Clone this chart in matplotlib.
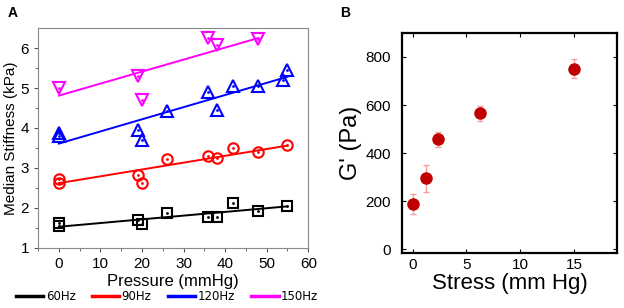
import matplotlib.pyplot as plt
import numpy as np
from matplotlib.lines import Line2D

plt.rcParams['font.family'] = ['Liberation Sans', 'DejaVu Sans']

# panel A: median stiffness vs pressure at four frequencies
x_60 = [0, 0, 19, 20, 26, 36, 38, 42, 48, 55]
y_60 = [1.62, 1.55, 1.70, 1.59, 1.88, 1.78, 1.78, 2.12, 1.93, 2.05]
x_90 = [0, 0, 19, 20, 26, 36, 38, 42, 48, 55]
y_90 = [2.73, 2.63, 2.82, 2.62, 3.22, 3.30, 3.26, 3.49, 3.41, 3.57]
x_120 = [0, 0, 19, 20, 26, 36, 38, 42, 48, 54, 55]
y_120 = [3.88, 3.80, 3.94, 3.69, 4.43, 4.90, 4.44, 5.05, 5.05, 5.20, 5.44]
x_150 = [0, 19, 20, 36, 38, 48]
y_150 = [5.00, 5.30, 4.69, 6.26, 6.07, 6.22]

# linear fits as drawn (end points)
fit_x_60, fit_y_60 = [0, 55], [1.53, 2.04]
fit_x_90, fit_y_90 = [0, 55], [2.62, 3.56]
fit_x_120, fit_y_120 = [0, 55], [3.61, 5.28]
fit_x_150, fit_y_150 = [0, 48], [4.81, 6.25]

series_a = [
    ('60Hz', x_60, y_60, fit_x_60, fit_y_60, 'black', 's', 6.5),
    ('90Hz', x_90, y_90, fit_x_90, fit_y_90, 'red', 'o', 7.5),
    ('120Hz', x_120, y_120, fit_x_120, fit_y_120, 'blue', '^', 8),
    ('150Hz', x_150, y_150, fit_x_150, fit_y_150, 'magenta', 'v', 8),
]

# panel B: G' vs stress
stress = [0, 1.2, 2.4, 6.3, 15]
g_prime = [190, 295, 457, 565, 752]
g_err = [42, 55, 30, 30, 40]

fig = plt.figure(figsize=(6.24, 3.08), dpi=100)

#### panel A
ax = fig.add_axes([0.061, 0.195, 0.433, 0.714])
for name, xs, ys, fx, fy, col, mk, ms in series_a:
    ax.plot(fx, fy, color=col, lw=1.4)
    ax.plot(xs, ys, ls='none', marker=mk, ms=ms, mfc='none', mec=col, mew=1.5)
    ax.plot(xs, ys, ls='none', marker='.', ms=2, color=col)

ax.set_xlim(-5, 60)
ax.set_ylim(1, 6.5)
ax.set_xticks(np.arange(0, 61, 10))
ax.set_xticks(np.arange(-5, 60, 5), minor=True)
ax.set_yticks([1, 2, 3, 4, 5, 6])
ax.set_yticks(np.arange(1.5, 6.5, 1), minor=True)
ax.tick_params(labelsize=11, length=3, width=0.8, color='#555555')
ax.tick_params(which='minor', length=2, color='#555555')
for sp in ax.spines.values():
    sp.set_color('#888888')
    sp.set_linewidth(0.8)
ax.set_xlabel('Pressure (mmHg)', fontsize=12, labelpad=2)
ax.set_ylabel('Median Stiffness (kPa)', fontsize=11, labelpad=2)

handles = [Line2D([], [], color=s[5], lw=2.5) for s in series_a]
fig.legend(handles, [s[0] for s in series_a], loc='center', ncol=4,
           bbox_to_anchor=(0.268, 0.036), frameon=False,
           handlelength=2.3, handletextpad=0.2, columnspacing=1.4,
           borderpad=0, prop={'family': 'DejaVu Sans', 'size': 8.5})

fig.text(0.013, 0.958, 'A', fontsize=10, fontweight='bold', va='center')

#### panel B
bx = fig.add_axes([0.644, 0.179, 0.345, 0.714])
bx.errorbar(stress, g_prime, yerr=g_err, fmt='o', ms=8, color='#c00000',
            ecolor='#f4a0a0', elinewidth=1, capsize=2)
bx.set_xlim(-1, 19)
bx.set_ylim(-15, 900)
bx.set_xticks([0, 5, 10, 15])
bx.set_yticks([0, 200, 400, 600, 800])
bx.tick_params(direction='in', top=True, right=True, labelsize=11, length=3, width=0.8)
bx.tick_params(axis='y', pad=8)
for sp in bx.spines.values():
    sp.set_linewidth(1.6)
bx.set_xlabel('Stress (mm Hg)', fontsize=16, labelpad=1)
bx.set_ylabel("G' (Pa)", fontsize=17, labelpad=2)

fig.text(0.545, 0.958, 'B', fontsize=10, fontweight='bold', va='center')

fig.savefig('out.png', dpi=100)
